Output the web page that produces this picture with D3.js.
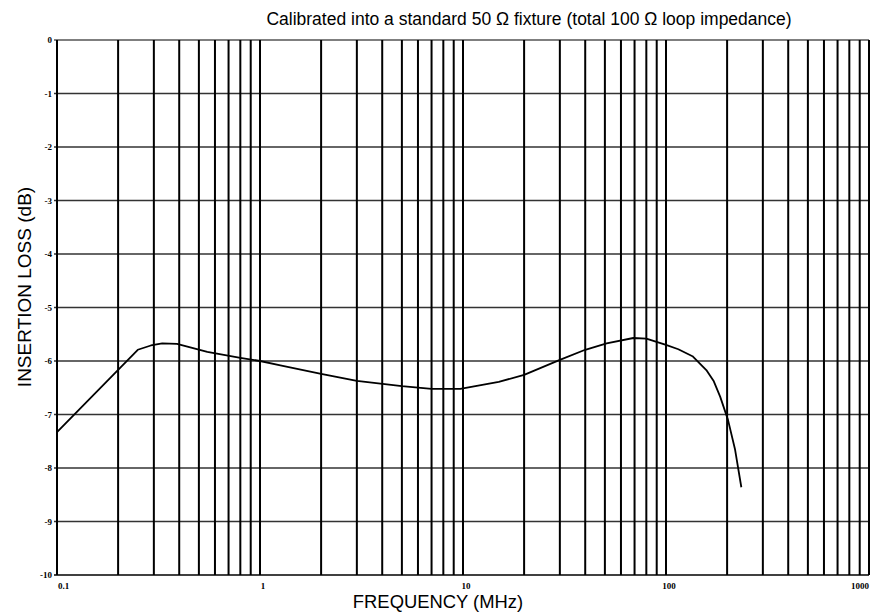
<!DOCTYPE html>
<html>
<head>
<meta charset="utf-8">
<script src="https://cdn.jsdelivr.net/npm/d3@7"></script>
<style>
  html, body { margin: 0; padding: 0; background: #fff; }
  svg { display: block; }
</style>
</head>
<body>
<div id="chart"></div>
<script>
// values
var freq = [0.1, 0.25, 0.29, 0.33, 0.39, 0.55, 0.8, 1, 1.26, 2, 3, 5, 7, 9.7, 15, 20, 30, 40, 51, 69, 80, 100, 115, 135, 158, 172, 185, 202, 219, 235];
var loss = [-7.33, -5.79, -5.71, -5.67, -5.68, -5.83, -5.94, -6.0, -6.08, -6.24, -6.37, -6.47, -6.52, -6.52, -6.39, -6.26, -5.98, -5.79, -5.67, -5.57, -5.58, -5.70, -5.78, -5.91, -6.17, -6.38, -6.67, -7.10, -7.66, -8.36];
var yTicks = [0, -1, -2, -3, -4, -5, -6, -7, -8, -9, -10];
var xTicks = [0.1, 1, 10, 100, 1000];
var xTickLabels = ["0.1", "1", "10", "100", "1000"];
var title = "Calibrated into a standard 50 \u03A9 fixture (total 100 \u03A9 loop impedance)";
var xTitle = "FREQUENCY (MHz)";
var yTitle = "INSERTION LOSS (dB)";

(function() {
    var W = 870, H = 614;
    var svg = d3.select("#chart").append("svg")
	.attr("width", W)
	.attr("height", H);

    var x = d3.scaleLog().domain([0.1, 1000]).range([57, 869]);
    var y = d3.scaleLinear().domain([0, -10]).range([40, 575]);

    // vertical log grid: 1..9 in every decade plus the last one
    var vlines = [];
    [0.1, 1, 10, 100].forEach(function(d) {
	for (var m = 1; m < 10; m++) vlines.push(d * m);
    });
    vlines.push(1000);

    var g = svg.append("g");

    g.selectAll("line.h")
	.data(yTicks)
	.enter()
	.append("line")
	.attr("class", "h")
	.attr("x1", x(0.1) - 3)
	.attr("x2", x(1000))
	.attr("y1", function(d) { return y(d) })
	.attr("y2", function(d) { return y(d) })
	.style("stroke", function(d) { return (d == 0 || d == -10) ? "#000" : "#333" })
	.style("stroke-width", function(d) { return d == 0 ? 1.2 : 1.6 });

    g.selectAll("line.v")
	.data(vlines)
	.enter()
	.append("line")
	.attr("class", "v")
	.attr("x1", function(d) { return x(d) })
	.attr("x2", function(d) { return x(d) })
	.attr("y1", y(0))
	.attr("y2", y(-10))
	.style("stroke", "#000")
	.style("stroke-width", 2);

    // tick labels
    g.selectAll("text.yt")
	.data(yTicks)
	.enter()
	.append("text")
	.attr("class", "yt")
	.attr("x", x(0.1) - 5)
	.attr("y", function(d) { return y(d) })
	.attr("dy", "0.35em")
	.attr("text-anchor", "end")
	.style("font-family", "'Liberation Serif', 'DejaVu Serif', serif")
	.style("font-size", "9px")
	.style("font-weight", "bold")
	.text(function(d) { return d == 0 ? "0" : "-" + Math.abs(d) });

    var last = xTicks.length - 1;
    g.selectAll("text.xt")
	.data(xTicks)
	.enter()
	.append("text")
	.attr("class", "xt")
	.attr("x", function(d, i) { return i == 0 ? x(d) + 1 : i == last ? x(d) : x(d) + 3 })
	.attr("y", y(-10) + 14)
	.attr("text-anchor", function(d, i) { return i == 0 ? "start" : i == last ? "end" : "middle" })
	.style("font-family", "'Liberation Serif', 'DejaVu Serif', serif")
	.style("font-size", "9px")
	.style("font-weight", "bold")
	.text(function(d, i) { return xTickLabels[i] });

    // the curve
    var pts = freq.map(function(f, i) { return [f, loss[i]] });
    var line = d3.line()
	.x(function(d) { return x(d[0]) })
	.y(function(d) { return y(d[1]) });
    g.append("path")
	.datum(pts)
	.attr("d", line)
	.style("fill", "none")
	.style("stroke", "#000")
	.style("stroke-width", 1.8)
	.style("stroke-linejoin", "round");

    // titles
    var sans = "'Liberation Sans', Arial, sans-serif";
    svg.append("text")
	.attr("x", 529)
	.attr("y", 25)
	.attr("text-anchor", "middle")
	.style("font-family", sans)
	.style("font-size", "17.5px")
	.text(title);

    svg.append("text")
	.attr("x", 438)
	.attr("y", 608)
	.attr("text-anchor", "middle")
	.style("font-family", sans)
	.style("font-size", "18.4px")
	.text(xTitle);

    svg.append("text")
	.attr("transform", "translate(31,287) rotate(-90)")
	.attr("text-anchor", "middle")
	.style("font-family", sans)
	.style("font-size", "19px")
	.text(yTitle);
})();
</script>
</body>
</html>
